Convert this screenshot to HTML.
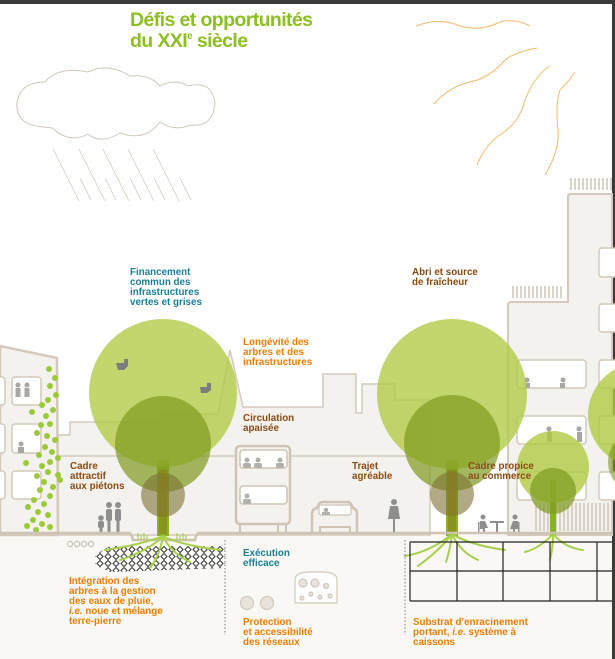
<!DOCTYPE html>
<html><head><meta charset="utf-8"><style>
html,body{margin:0;padding:0;background:#fff}
svg{display:block}
text{font-family:"Liberation Sans",sans-serif;font-weight:bold}
.l{font-size:9.8px}
.t{fill:#1b7f98}.o{fill:#f07d00}.b{fill:#8a4a12}
</style></head><body>
<svg width="615" height="659" viewBox="0 0 615 659" xmlns="http://www.w3.org/2000/svg">
<defs>
<pattern id="grav" width="8" height="7" patternUnits="userSpaceOnUse">
<path d="M4 0.5 L7 3.5 L4 6.5 L1 3.5Z" fill="#fff" stroke="#333" stroke-width="1"/>
</pattern>
</defs>
<rect width="615" height="659" fill="#fff"/>
<rect x="0" y="0" width="615" height="4" fill="#3a3a3a"/>
<rect x="612" y="0" width="3" height="659" fill="#3a3a3a"/>
<rect x="0" y="533" width="612" height="126" fill="#f9f8f5"/>
<path d="M58 535 L58 435 L70 435 L70 422 L163 422 L163 414 L218 414 L230 350 L243 407 L323 407 L323 374 L356 374 L356 413 L362 413 L362 384 L395 384 L395 400 L430 400 L430 535 Z" fill="#f4f2ee" stroke="#d4c9ba" stroke-width="1.5"/>
<line x1="58" y1="456" x2="430" y2="456" stroke="#d4c9ba" stroke-width="1.5"/>
<path d="M0 346 L57 358 L58 535 L0 535Z" fill="#f4f2ee" stroke="#d4c9ba" stroke-width="2.5"/>
<g fill="#fff" stroke="#d4c9ba" stroke-width="1.5">
<rect x="12" y="377" width="29" height="28" rx="3"/><rect x="12" y="424" width="29" height="29" rx="3"/><rect x="12" y="471" width="29" height="28" rx="3"/>
<rect x="-5" y="377" width="10" height="28" rx="3"/><rect x="-5" y="424" width="10" height="29" rx="3"/><rect x="-5" y="471" width="10" height="28" rx="3"/>
</g>
<g fill="#a9a6a3"><circle cx="18" cy="385" r="2.5"/><rect x="15.5" y="388" width="5" height="9"/><circle cx="27" cy="385" r="2.5"/><rect x="24.5" y="388" width="5" height="9"/><circle cx="21" cy="444" r="2.5"/><rect x="18" y="447" width="6" height="6"/></g>
<g fill="#9cc83a">
<circle cx="49" cy="369" r="3"/><circle cx="55" cy="378" r="3"/><circle cx="50" cy="386" r="3"/><circle cx="56" cy="395" r="3"/><circle cx="48" cy="400" r="3"/><circle cx="42" cy="405" r="3"/><circle cx="53" cy="410" r="3"/><circle cx="46" cy="416" r="3"/><circle cx="41" cy="425" r="3"/><circle cx="50" cy="424" r="3"/><circle cx="37" cy="433" r="3"/><circle cx="47" cy="436" r="3"/><circle cx="32" cy="412" r="3"/><circle cx="55" cy="440" r="3"/><circle cx="45" cy="447" r="3"/><circle cx="52" cy="452" r="3"/><circle cx="39" cy="455" r="3"/><circle cx="50" cy="462" r="3"/><circle cx="58" cy="458" r="3"/><circle cx="42" cy="466" r="3"/><circle cx="48" cy="472" r="3"/><circle cx="58" cy="475" r="3"/><circle cx="37" cy="476" r="3"/><circle cx="26" cy="463" r="3"/><circle cx="44" cy="482" r="3"/><circle cx="53" cy="487" r="3"/><circle cx="60" cy="480" r="3"/><circle cx="40" cy="490" r="3"/><circle cx="50" cy="496" r="3"/><circle cx="34" cy="500" r="3"/><circle cx="44" cy="504" r="3"/><circle cx="28" cy="507" r="3"/><circle cx="38" cy="512" r="3"/><circle cx="48" cy="515" r="3"/><circle cx="33" cy="520" r="3"/><circle cx="42" cy="524" r="3"/><circle cx="27" cy="526" r="3"/><circle cx="50" cy="527" r="3"/><circle cx="36" cy="530" r="3"/>
</g>
<path d="M508 535 L508 305 Q508 302 511 302 L568 302 L568 197 Q568 194 571 194 L612 194 L612 535Z" fill="#f4f2ee" stroke="#d4c9ba" stroke-width="2"/>
<g stroke="#c9bdac" stroke-width="1.3">
<path d="M513 286v12M517 286v12M521 286v12M525 286v12M529 286v12M533 286v12M537 286v12M541 286v12M545 286v12M549 286v12M553 286v12M557 286v12M561 286v12"/>
<path d="M571 178v12M575 178v12M579 178v12M583 178v12M587 178v12M591 178v12M595 178v12M599 178v12M603 178v12M607 178v12M611 178v12"/>
<path d="M536 503v28M540 503v28M544 503v28M548 503v28M552 503v28M556 503v28M560 503v28M564 503v28M568 503v28M572 503v28M576 503v28M580 503v28M584 503v28M588 503v28M592 503v28M596 503v28M600 503v28M604 503v28M608 503v28"/>
</g>
<g fill="#fff" stroke="#d4c9ba" stroke-width="1.5">
<rect x="517" y="360" width="69" height="28" rx="3"/><rect x="517" y="416" width="69" height="28" rx="3"/><rect x="517" y="472" width="69" height="28" rx="3"/>
<rect x="599" y="248" width="20" height="29" rx="3"/><rect x="599" y="304" width="20" height="28" rx="3"/><rect x="599" y="360" width="20" height="28" rx="3"/><rect x="599" y="416" width="20" height="28" rx="3"/><rect x="599" y="472" width="20" height="28" rx="3"/>
</g>
<g fill="#a9a6a3"><circle cx="527" cy="380" r="2.5"/><rect x="525" y="383" width="5" height="5"/><circle cx="563" cy="380" r="2.5"/><rect x="560" y="383" width="5" height="5"/><circle cx="549" cy="429" r="2.5"/><rect x="547" y="432" width="5" height="10"/><circle cx="579" cy="429" r="2.5"/><rect x="577" y="432" width="5" height="10"/></g>
<rect x="236" y="446" width="54" height="78" rx="4" fill="#f4f2ee" stroke="#cfc3b3" stroke-width="2.5"/>
<rect x="240" y="450" width="47" height="18" rx="3" fill="#fff" stroke="#cfc3b3" stroke-width="1.5"/>
<rect x="240" y="486" width="47" height="18" rx="3" fill="#fff" stroke="#cfc3b3" stroke-width="1.5"/>
<path d="M240 524v9M286 524v9M248 524h30v9" fill="none" stroke="#cfc3b3" stroke-width="2"/>
<g fill="#b3b0ac"><circle cx="247" cy="460" r="2.5"/><rect x="243" y="463" width="8" height="5" rx="2"/><circle cx="258" cy="460" r="2.5"/><rect x="254" y="463" width="8" height="5" rx="2"/><circle cx="280" cy="460" r="2.5"/><rect x="276" y="463" width="8" height="5" rx="2"/><circle cx="247" cy="496" r="2.5"/><rect x="243" y="499" width="8" height="5" rx="2"/></g>
<path d="M312 533 L312 514 Q312 509 317 508 L319 504 Q320 502 323 502 L347 502 Q350 502 351 504 L353 508 Q357 509 357 514 L357 533" fill="#f4f2ee" stroke="#cfc3b3" stroke-width="2.5"/>
<rect x="319" y="505" width="32" height="10" rx="2" fill="#fff" stroke="#cfc3b3" stroke-width="1.2"/>
<circle cx="326" cy="510" r="2.3" fill="#b3b0ac"/><rect x="322" y="512" width="8" height="3" fill="#b3b0ac"/>
<path d="M320 533v-6h30v6" fill="none" stroke="#cfc3b3" stroke-width="2"/>
<g fill="#8e8e8e"><circle cx="394" cy="502" r="3"/><path d="M390 506h8l2 13h-12z"/><rect x="393" y="516" width="2" height="17"/></g>
<g fill="#8e8e8e">
<circle cx="101" cy="518" r="2.8"/><rect x="98" y="521" width="6" height="7" rx="2"/><rect x="99.5" y="527" width="3" height="7"/>
<circle cx="109" cy="505" r="3"/><rect x="106" y="509" width="6" height="12" rx="2"/><rect x="107.5" y="520" width="3" height="14"/>
<circle cx="118" cy="505" r="3"/><rect x="115" y="509" width="6" height="12" rx="2"/><rect x="116.5" y="520" width="3" height="14"/>
<circle cx="483" cy="517" r="2.5"/><path d="M480 521h5l3 7h-3v6h-2v-5h-3z"/><rect x="478" y="522" width="1.5" height="12"/>
<circle cx="515" cy="517" r="2.5"/><path d="M513 521h5v8h-3v5h-2v-5h-3z"/><rect x="518" y="522" width="1.5" height="12"/>
<rect x="490" y="521" width="14" height="2"/><rect x="496" y="522" width="2" height="12"/>
</g>
<g>
<rect x="157" y="460" width="12" height="76" fill="#8ab224"/>
<circle cx="163" cy="393" r="74" fill="#afcb42" fill-opacity="0.78"/>
<circle cx="163" cy="444" r="48" fill="#7e9a1e" fill-opacity="0.7"/>
<circle cx="163" cy="495" r="22" fill="#7d7233" fill-opacity="0.6"/>
<rect x="159" y="470" width="8" height="64" fill="#8a7a1e" fill-opacity="0.55"/>
<rect x="446" y="460" width="12" height="76" fill="#8ab224"/>
<circle cx="452" cy="394" r="75" fill="#afcb42" fill-opacity="0.78"/>
<circle cx="452" cy="443" r="48" fill="#7e9a1e" fill-opacity="0.7"/>
<circle cx="452" cy="494" r="22" fill="#7d7233" fill-opacity="0.6"/>
<rect x="448" y="470" width="8" height="64" fill="#8a7a1e" fill-opacity="0.55"/>
<rect x="550" y="480" width="6" height="56" fill="#8ab224"/>
<circle cx="553" cy="467" r="36" fill="#afcb42" fill-opacity="0.8"/>
<circle cx="553" cy="491" r="23" fill="#7e9a1e" fill-opacity="0.7"/>
<circle cx="640" cy="415" r="52" fill="#afcb42" fill-opacity="0.8"/>
<circle cx="640" cy="462" r="32" fill="#7e9a1e" fill-opacity="0.6"/>
</g>
<g fill="#7d7d7d"><path d="M116 363h8v-4h4v7l-4 4h-6z"/><path d="M200 387h7v-4h4v7l-4 3h-6z"/></g>
<path d="M0 533 L128 533 Q131 533 132 536 L133 540 L195 540 L196 536 Q197 533 200 533 L612 533" fill="none" stroke="#cfc3b3" stroke-width="2.5"/>
<g stroke="#9cc83a" stroke-width="1"><path d="M138 540v-7M141 540v-5M144 540v-7M147 540v-5M177 540v-7M180 540v-5M183 540v-7M186 540v-5"/></g>
<path d="M95 555 L110 546 L225 546 L225 568 L110 572 L95 565Z" fill="url(#grav)"/>
<g stroke="#a8cf48" stroke-width="2" fill="none" stroke-linecap="round">
<path d="M163 536 Q150 550 120 560M163 536 Q160 555 150 568M163 536 Q170 552 190 562M163 536 Q180 545 220 550M163 536 Q140 545 105 550"/>
<path d="M452 534 Q430 552 405 556M452 534 Q440 550 418 566M452 534 Q460 552 478 560M452 534 Q470 545 505 550M452 534 Q450 550 446 562"/>
<path d="M553 534 Q540 548 525 552M553 534 Q553 548 550 560M553 534 Q565 548 583 550"/>
</g>
<g fill="none" stroke="#c9c1b5" stroke-width="1.2"><circle cx="70" cy="544" r="2.6"/><circle cx="77" cy="544" r="2.6"/><circle cx="84" cy="544" r="2.6"/><circle cx="91" cy="544" r="2.6"/></g>
<g stroke="#777" stroke-width="1" stroke-dasharray="1.5,2"><path d="M225 540v95M405 540v95"/></g>
<g stroke="#222" stroke-width="1.2" fill="none"><path d="M410 542v59M457 542v59M503 542v59M550 542v59M597 542v59M410 542h202M410 571h202M410 601h202"/></g>
<g fill="#e8e3db" stroke="#d1c8bb" stroke-width="1.2">
<circle cx="247" cy="603" r="6.5"/><circle cx="267" cy="603" r="6.5"/>
<path d="M295 603 L295 580 Q295 572 310 572 L322 572 Q337 572 337 580 L337 603Z" fill="#fff"/>
<circle cx="303" cy="583" r="4"/><circle cx="315" cy="583" r="4"/><circle cx="326" cy="586" r="2.5"/><circle cx="302" cy="598" r="2"/><circle cx="311" cy="594" r="2"/><circle cx="320" cy="597" r="2"/><circle cx="330" cy="596" r="2"/>
</g>
<path d="M44 127 Q15 125 17 103 Q20 82 45 82 Q58 66 88 72 Q108 62 130 76 Q150 74 160 86 Q175 78 188 86 Q212 80 215 103 Q213 128 190 125 Q175 132 160 122 Q145 142 120 133 Q100 145 88 134 Q70 144 52 128Z" fill="#fff" stroke="#d1c8bb" stroke-width="1"/>
<g stroke="#d1c8bb" stroke-width="0.8"><path d="M53 149l26 52M79 149l26 52M103 149l26 52M128 149l26 52M153 149l26 52M80 178l11 22M105 178l11 22M130 178l11 22M154 178l11 22M180 178l11 22"/></g>
<g stroke="#f7b96a" stroke-width="1" fill="none">
<path d="M416 26 Q440 17 460 26 Q480 32 500 22 Q515 18 530 26"/>
<path d="M434 104 Q450 86 470 82 Q490 78 505 60 Q515 52 537 48"/>
<path d="M477 165 Q485 145 500 135 Q520 122 525 100 Q535 75 550 66"/>
<path d="M545 175 Q560 150 558 130 Q555 105 560 90 Q570 80 575 72"/>
</g>
<text x="130" y="26" font-size="19.5" fill="#8cbf1f" letter-spacing="-0.6">Défis et opportunités</text>
<text x="130" y="47" font-size="19.5" fill="#8cbf1f" letter-spacing="-0.6">du XXI<tspan font-size="10" dy="-8">e</tspan><tspan dy="8"> siècle</tspan></text>
<g class="l">
<text class="t" x="130" y="275">Financement<tspan x="130" dy="10">commun des</tspan><tspan x="130" dy="10">infrastructures</tspan><tspan x="130" dy="10">vertes et grises</tspan></text>
<text class="o" x="243" y="345">Longévité des<tspan x="243" dy="10">arbres et des</tspan><tspan x="243" dy="10">infrastructures</tspan></text>
<text class="b" x="243" y="421">Circulation<tspan x="243" dy="10">apaisée</tspan></text>
<text class="b" x="70" y="469">Cadre<tspan x="70" dy="10">attractif</tspan><tspan x="70" dy="10">aux piétons</tspan></text>
<text class="b" x="412" y="275">Abri et source<tspan x="412" dy="10">de fraîcheur</tspan></text>
<text class="b" x="352" y="469">Trajet<tspan x="352" dy="10">agréable</tspan></text>
<text class="b" x="468" y="469">Cadre propice<tspan x="468" dy="10">au commerce</tspan></text>
<text class="t" x="243" y="556">Exécution<tspan x="243" dy="10">efficace</tspan></text>
<text class="o" x="69" y="584">Intégration des<tspan x="69" dy="10">arbres à la gestion</tspan><tspan x="69" dy="10">des eaux de pluie,</tspan><tspan x="69" dy="10"><tspan font-style="italic">i.e.</tspan> noue et mélange</tspan><tspan x="69" dy="10">terre-pierre</tspan></text>
<text class="o" x="243" y="625">Protection<tspan x="243" dy="10">et accessibilité</tspan><tspan x="243" dy="10">des réseaux</tspan></text>
<text class="o" x="413" y="625">Substrat d’enracinement<tspan x="413" dy="10">portant, <tspan font-style="italic">i.e.</tspan> système à</tspan><tspan x="413" dy="10">caissons</tspan></text>
</g>
</svg>
</body></html>
